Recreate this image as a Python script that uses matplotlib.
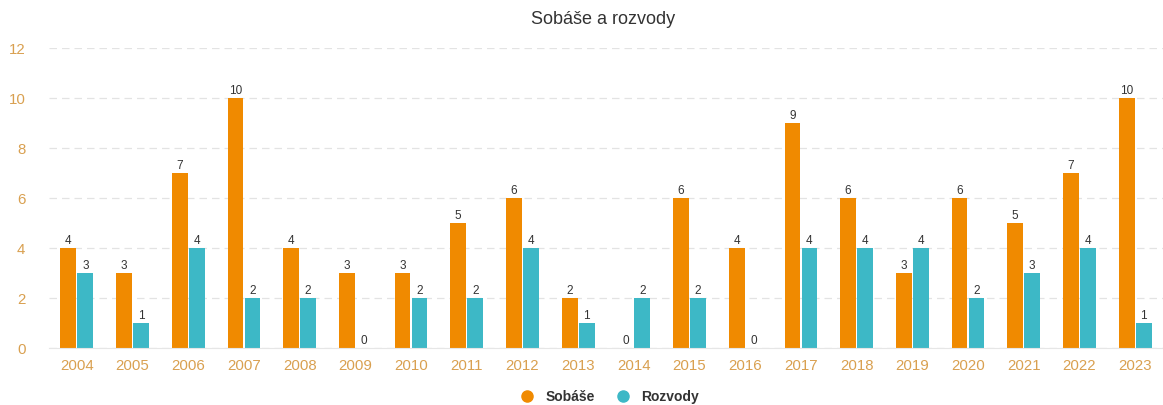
import matplotlib.pyplot as plt
import numpy as np

years = [str(y) for y in range(2004, 2024)]
sobase = [4, 3, 7, 10, 4, 3, 3, 5, 6, 2, 0, 6, 4, 9, 6, 3, 6, 5, 7, 10]
rozvody = [3, 1, 4, 2, 2, 0, 2, 2, 4, 1, 2, 2, 0, 4, 4, 4, 2, 3, 4, 1]

ORANGE = '#F08A00'
TEAL = '#3DB8C6'
TICK_COLOR = '#D9A050'

plt.rcParams['font.family'] = ['Liberation Sans', 'DejaVu Sans']

fig = plt.figure(figsize=(11.63, 4.05), dpi=100)
ax = fig.add_axes([49 / 1163, 57 / 405, 1114 / 1163, 300 / 405])

x = np.arange(len(years))
w = 0.285
b1 = ax.bar(x - w / 2 - 0.01, sobase, w, color=ORANGE, label='Sobáše')
b2 = ax.bar(x + w / 2 + 0.01, rozvody, w, color=TEAL, label='Rozvody')

# hodnoty nad stĺpcami
for bars in (b1, b2):
    for rect in bars:
        h = rect.get_height()
        ax.text(rect.get_x() + rect.get_width() / 2, h + 0.03, f'{int(h)}',
                ha='center', va='bottom', fontsize=8.5, color='#333333')

ax.set_xlim(-0.5, len(years) - 0.5)
ax.set_ylim(0, 12)
ax.set_yticks(range(0, 13, 2))
ax.set_xticks(x)
ax.set_xticklabels(years)
ax.tick_params(axis='both', length=0, labelsize=10.8, colors=TICK_COLOR)
ax.tick_params(axis='y', pad=17)
ax.tick_params(axis='x', pad=8)

ax.yaxis.grid(True, color='#e3e3e3', linestyle=(0, (6, 4)), linewidth=0.9)
ax.set_axisbelow(True)
for s in ['top', 'right', 'left']:
    ax.spines[s].set_visible(False)
ax.spines['bottom'].set_color('#e6e6e6')

fig.text(603 / 1163, 1 - 20 / 405, 'Sobáše a rozvody', ha='center', va='center',
         fontsize=13, color='#333333')

handles = [plt.Line2D([], [], marker='o', linestyle='', markersize=8, color=ORANGE),
           plt.Line2D([], [], marker='o', linestyle='', markersize=8, color=TEAL)]
leg = fig.legend(handles, ['Sobáše', 'Rozvody'], loc='center', ncol=2,
                 bbox_to_anchor=(606 / 1163, 1 - 397 / 405), frameon=False,
                 prop={'weight': 'bold', 'size': 10}, handletextpad=0.3,
                 columnspacing=1.0)
for t in leg.get_texts():
    t.set_color('#333333')

fig.savefig('out.png', dpi=100)
